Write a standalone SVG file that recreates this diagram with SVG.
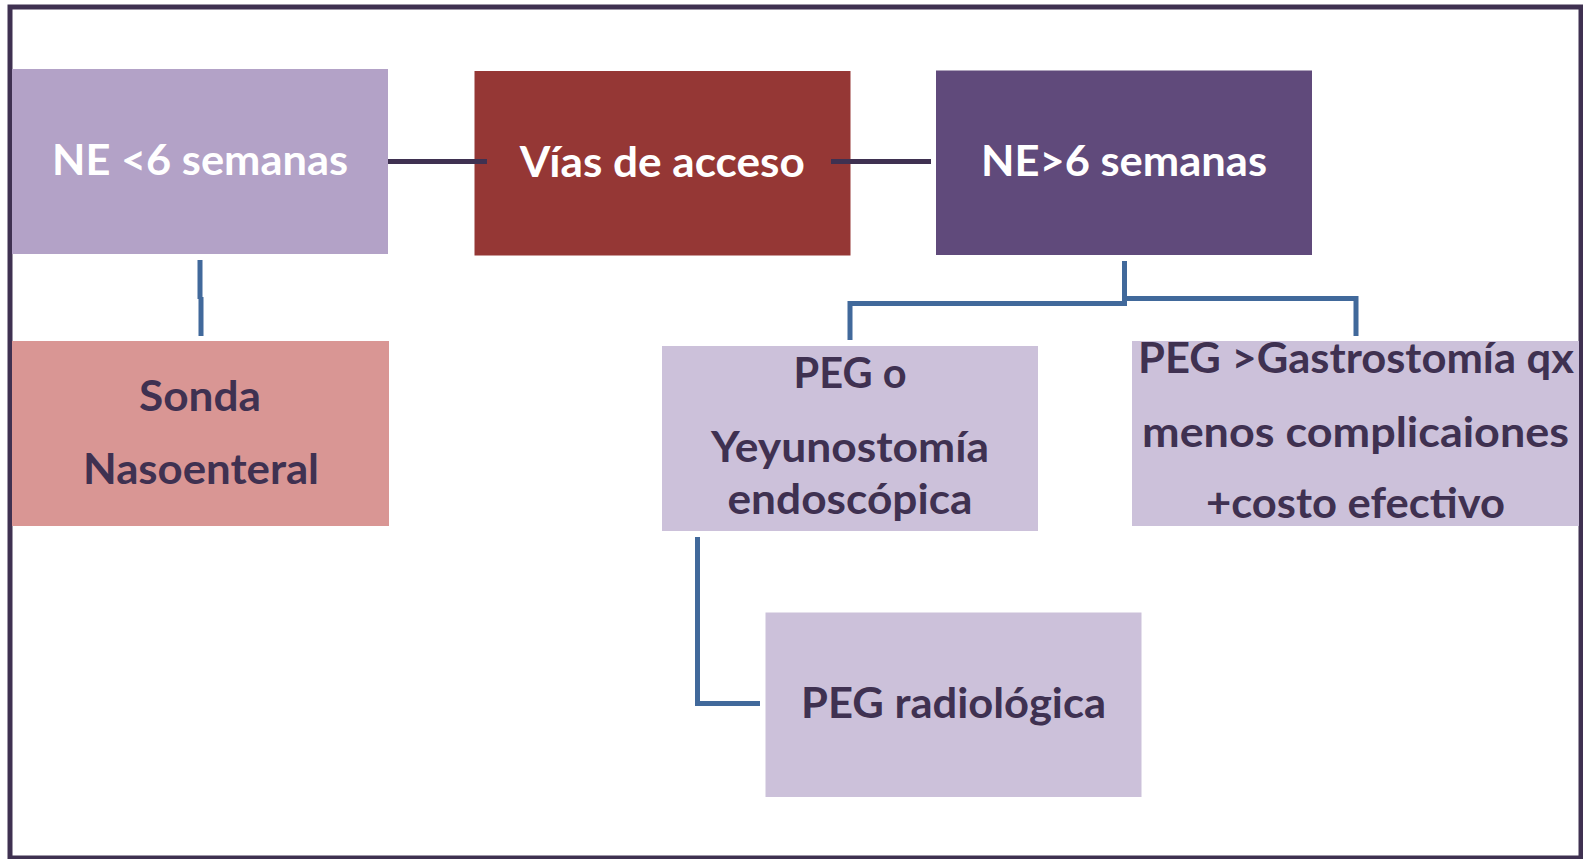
<svg xmlns="http://www.w3.org/2000/svg" width="1583" height="859" viewBox="0 0 1583 859">
<style>
.t{font-family:Lato,"Open Sans","Liberation Sans",sans-serif;font-weight:bold;font-size:42px;text-anchor:middle}
.w{fill:#ffffff}
.d{fill:#3f3151}
.dk{fill:none;stroke:#3f3151;stroke-width:5}
.bl{fill:none;stroke:#41699b;stroke-width:5}
</style>
<rect x="0" y="0" width="1583" height="859" fill="#ffffff"/>
<rect x="10" y="7" width="1571" height="851" fill="none" stroke="#3f3151" stroke-width="5"/>
<g id="n_ne_menos">
<rect x="12" y="69" width="376" height="185" fill="#b3a2c7"/>
<text class="t w" x="200" y="175" textLength="296" lengthAdjust="spacingAndGlyphs">NE &lt;6 semanas</text>
</g>
<g id="n_vias">
<rect x="474.5" y="71" width="376" height="184.5" fill="#953735"/>
<text class="t w" x="662.3" y="176.5" textLength="285" lengthAdjust="spacingAndGlyphs">Vías de acceso</text>
</g>
<g id="n_ne_mas">
<rect x="936" y="70.5" width="376" height="184.5" fill="#604a7b"/>
<text class="t w" x="1124" y="176" textLength="286" lengthAdjust="spacingAndGlyphs">NE&gt;6 semanas</text>
</g>
<g id="n_sonda">
<rect x="12" y="341" width="377" height="185" fill="#d99694"/>
<text class="t d" x="200" y="410.7" textLength="122" lengthAdjust="spacingAndGlyphs">Sonda</text>
<text class="t d" x="201" y="484" textLength="236" lengthAdjust="spacingAndGlyphs">Nasoenteral</text>
</g>
<g id="n_peg_yeyuno">
<rect x="662" y="346" width="376" height="185" fill="#ccc1da"/>
<text class="t d" x="850" y="388" textLength="113" lengthAdjust="spacingAndGlyphs">PEG o</text>
<text class="t d" x="850" y="461.5" textLength="278" lengthAdjust="spacingAndGlyphs">Yeyunostomía</text>
<text class="t d" x="850" y="514" textLength="245" lengthAdjust="spacingAndGlyphs">endoscópica</text>
</g>
<g id="n_peg_gastro">
<rect x="1132" y="341" width="447" height="185" fill="#ccc1da"/>
<text class="t d" x="1356" y="373" textLength="436" lengthAdjust="spacingAndGlyphs">PEG &gt;Gastrostomía qx</text>
<text class="t d" x="1355.5" y="446.5" textLength="427" lengthAdjust="spacingAndGlyphs">menos complicaiones</text>
<text class="t d" x="1355.5" y="518" textLength="299" lengthAdjust="spacingAndGlyphs">+costo efectivo</text>
</g>
<g id="n_peg_radio">
<rect x="765.5" y="612.5" width="376" height="184.5" fill="#ccc1da"/>
<text class="t d" x="953.5" y="718" textLength="305" lengthAdjust="spacingAndGlyphs">PEG radiológica</text>
</g>
<g id="connectors">
<line class="dk" x1="388" y1="161.5" x2="487" y2="161.5"/>
<line class="dk" x1="831" y1="161.5" x2="931" y2="161.5"/>
<path class="bl" d="M200,260 V299 M201,297 V336"/>
<path class="bl" d="M1124.5,261 V305 M1127,303.5 H850 V340 M1124.5,298.5 H1356 V336"/>
<path class="bl" d="M697.5,537 V703.5 H760"/>
</g>
</svg>
